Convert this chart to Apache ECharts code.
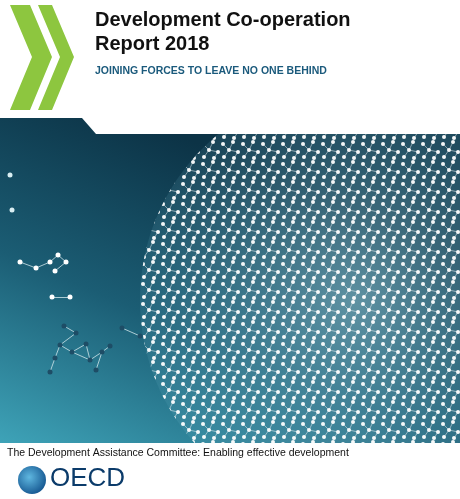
<!DOCTYPE html>
<html><head><meta charset="utf-8">
<script src="https://cdn.jsdelivr.net/npm/echarts@6/dist/echarts.min.js"></script>
<style>html,body{margin:0;background:#fff}#chart{width:460px;height:499px}</style>
</head><body><div id="chart"></div>
<script>
// cover texts
const title = ['Development Co-operation', 'Report 2018'];
const subtitle = 'JOINING FORCES TO LEAVE NO ONE BEHIND';
const footer = 'The Development Assistance Committee: Enabling effective development';

// sparse network nodes on the left (x, y in page px)
const nodeX = [10, 12, 20, 36, 50, 58, 66, 55, 52, 70, 64, 76, 60, 55, 50, 72, 90, 102, 96, 122, 140, 110, 86];
const nodeY = [175, 210, 262, 268, 262, 255, 262, 271, 297, 297, 326, 333, 345, 358, 372, 352, 360, 352, 370, 328, 336, 346, 344];
const edgeFrom = [2, 3, 4, 5, 6, 8, 10, 11, 12, 13, 12, 15, 16, 17, 16, 19, 21, 22];
const edgeTo   = [3, 4, 5, 6, 7, 9, 11, 12, 13, 14, 15, 16, 17, 18, 22, 20, 17, 15];
const nodeColor = ['#d9eef2', '#d9eef2', '#ffffff', '#ffffff', '#ffffff', '#ffffff', '#ffffff', '#ffffff', '#ffffff', '#ffffff',
  '#1e4d66', '#1e4d66', '#1e4d66', '#1e4d66', '#1e4d66', '#1e4d66', '#1e4d66', '#1e4d66', '#1e4d66', '#1e4d66', '#1e4d66', '#1e4d66', '#1e4d66'];

// dotted texture for the sphere
const pc = document.createElement('canvas');
pc.width = 20; pc.height = 20;
const g = pc.getContext('2d');
g.fillStyle = '#ffffff';
[[3, 4], [13, 2], [9, 10], [18, 12], [4, 17], [14, 18]].forEach(p => { g.beginPath(); g.arc(p[0], p[1], 2, 0, 7); g.fill(); });
g.strokeStyle = 'rgba(255,255,255,0.7)'; g.lineWidth = 0.7;
g.beginPath(); g.moveTo(3, 4); g.lineTo(9, 10); g.lineTo(18, 12); g.moveTo(13, 2); g.lineTo(9, 10); g.lineTo(4, 17); g.moveTo(14, 18); g.lineTo(18, 12); g.stroke();

const chart = echarts.init(document.getElementById('chart'));
chart.setOption({
  animation: false,
  grid: { left: 0, right: 0, top: 0, bottom: 0 },
  xAxis: { type: 'value', min: 0, max: 460, show: false },
  yAxis: { type: 'value', min: 0, max: 499, inverse: true, show: false },
  graphic: [
    { type: 'polygon', shape: { points: [[0, 118], [82, 118], [96, 134], [460, 134], [460, 443], [0, 443]] },
      style: { fill: new echarts.graphic.LinearGradient(0.3, 0, 0, 1, [
        { offset: 0, color: '#0c3346' }, { offset: 0.5, color: '#1b5d74' }, { offset: 1, color: '#3ea3b8' }]) }, z: -10 },
    { type: 'group', z: -8, clipPath: { type: 'rect', shape: { x: 0, y: 134, width: 460, height: 309 } }, children: [
      { type: 'circle', shape: { cx: 355, cy: 300, r: 215 },
        style: { fill: new echarts.graphic.RadialGradient(0.5, 0.5, 0.5, [
          { offset: 0, color: 'rgba(170,220,232,0.5)' }, { offset: 1, color: 'rgba(120,190,210,0.12)' }]) } },
      { type: 'circle', shape: { cx: 355, cy: 300, r: 215 }, style: { fill: { image: pc, repeat: 'repeat' }, opacity: 0.95 } }
    ] },
    { type: 'polygon', shape: { points: [[10, 5], [30, 5], [52, 57], [30, 110], [10, 110], [32, 57]] }, style: { fill: '#8dc63f' } },
    { type: 'polygon', shape: { points: [[38, 5], [52, 5], [74, 57], [52, 110], [38, 110], [60, 57]] }, style: { fill: '#8dc63f' } },
    { type: 'text', left: 95, top: 8, style: { text: title.join('\n'), font: 'bold 20px "Liberation Sans", Arial', fill: '#111', lineHeight: 24 } },
    { type: 'text', left: 95, top: 66, style: { text: subtitle, font: 'bold 10.5px "Liberation Sans", Arial', fill: '#1b5a7c' } },
    { type: 'text', left: 7, top: 448, style: { text: footer, font: '10.5px "Liberation Sans", Arial', fill: '#111' } },
    { type: 'circle', shape: { cx: 32, cy: 480, r: 14 }, style: { fill: new echarts.graphic.RadialGradient(0.4, 0.4, 0.7, [
      { offset: 0, color: '#5fb7e0' }, { offset: 1, color: '#0f4f8a' }]) } },
    { type: 'text', left: 50, top: 466, style: { text: 'OECD', font: '26px "Liberation Sans", Arial', fill: '#0b3b6a' } }
  ],
  series: [{
    type: 'graph', coordinateSystem: 'cartesian2d', symbolSize: 5,
    data: nodeX.map((x, i) => ({ value: [x, nodeY[i]], itemStyle: { color: nodeColor[i] } })),
    links: edgeFrom.map((s, i) => ({ source: s, target: edgeTo[i] })),
    lineStyle: { color: '#cfe5ea', width: 1, opacity: 0.8 }
  }]
});
</script></body></html>
